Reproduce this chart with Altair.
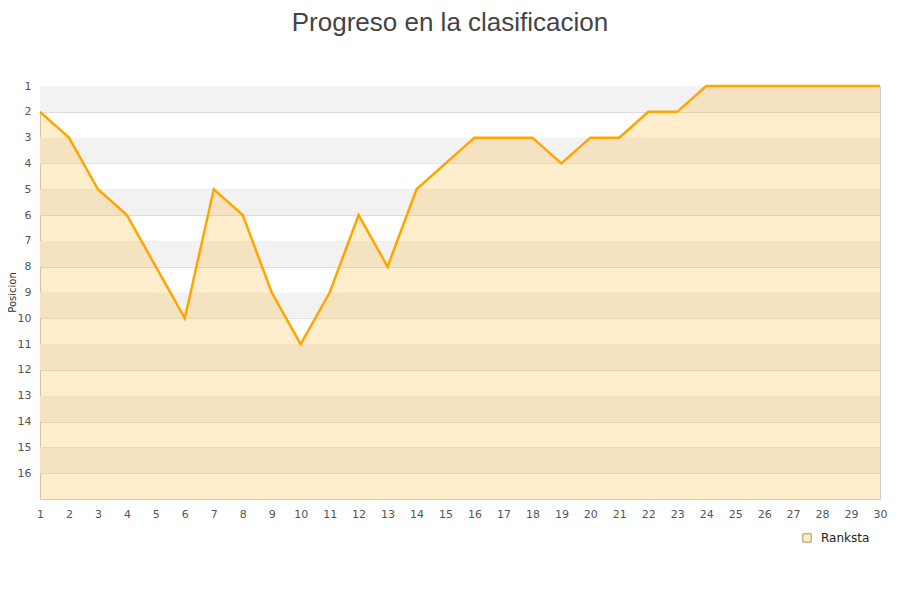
import altair as alt
import pandas as pd

jornadas = list(range(1, 31))
posiciones = [2, 3, 5, 6, 8, 10, 5, 6, 9, 11, 9, 6, 8, 5, 4, 3, 3, 3, 4, 3,
              3, 2, 2, 1, 1, 1, 1, 1, 1, 1]
serie = "Ranksta"
band_starts = [1, 3, 5, 7, 9, 11, 13, 15]
band_ends = [2, 4, 6, 8, 10, 12, 14, 16]
y_ticks = list(range(1, 17))

df = pd.DataFrame({"jornada": jornadas, "pos": posiciones, "serie": [serie] * len(jornadas)})
bands = pd.DataFrame({"y0": band_starts, "y1": band_ends})
legend_df = pd.DataFrame({"jornada": [1], "pos": [1], "serie": [serie]})

xs = alt.Scale(domain=[1, 30], nice=False)
ys = alt.Scale(domain=[1, 17], reverse=True, nice=False, zero=False)

y_axis = alt.Axis(
    values=y_ticks, title="Posicion", grid=True, gridColor="#dddddd",
    domain=False, ticks=False, labelPadding=9, labelFontSize=11,
    labelOverlap=False, labelFlush=False, labelBound=False,
    labelColor="#555555", labelFont="DejaVu Sans", titleFont="DejaVu Sans",
    titleFontSize=10, titleFontWeight="normal", titleColor="#333333",
    titleX=-23, titleY=206, titleAngle=270, titleAlign="center",
    titleBaseline="bottom")
x_axis = alt.Axis(
    values=jornadas, title=None, grid=False, ticks=False, domain=False,
    labelOverlap=False, labelFlush=False, labelBound=False,
    labelPadding=9, labelFontSize=11, labelColor="#555555",
    labelFont="DejaVu Sans", format="d")

band_layer = alt.Chart(bands).mark_rect(color="#f2f2f2").encode(
    x=alt.value(0), x2=alt.value(840),
    y=alt.Y("y0:Q", scale=ys, axis=y_axis),
    y2="y1:Q",
)

area = alt.Chart(df).mark_area(color="#ffa500", fillOpacity=0.2, interpolate="linear").encode(
    x=alt.X("jornada:Q", scale=xs, axis=x_axis),
    y=alt.Y("pos:Q", scale=ys, axis=y_axis),
    y2=alt.datum(17),
)

legend_layer = alt.Chart(legend_df).mark_square(size=0).encode(
    x=alt.X("jornada:Q", scale=xs, axis=x_axis),
    y=alt.Y("pos:Q", scale=ys, axis=y_axis),
    fill=alt.Fill("serie:N", scale=alt.Scale(range=["#ffecc8"]), legend=alt.Legend(
        title=None, orient="none", legendX=761, legendY=446, symbolType="square",
        symbolSize=70, symbolStrokeColor="#b0905c", symbolStrokeWidth=1,
        symbolOpacity=1, labelOffset=8,
        labelFont="DejaVu Sans", labelFontSize=12, labelColor="#222222")),
)

line = alt.Chart(df).mark_line(color="#ffa500", strokeWidth=2.5).encode(
    x=alt.X("jornada:Q", scale=xs, axis=x_axis),
    y=alt.Y("pos:Q", scale=ys, axis=y_axis),
)

chart = alt.layer(band_layer, area, line, legend_layer).properties(
    width=840, height=413,
    autosize=alt.AutoSizeParams(type="none"),
    padding={"left": 32, "top": 78, "right": 12, "bottom": 80},
    title=alt.Title("Progreso en la clasificacion", font="Liberation Sans",
                    fontSize=26, fontWeight="normal", color="#444444",
                    anchor="middle", dx=-10, offset=44),
).configure_view(stroke="#cccccc", strokeWidth=1)

chart.save("out.html", embed_options={"renderer": "svg", "actions": False})
